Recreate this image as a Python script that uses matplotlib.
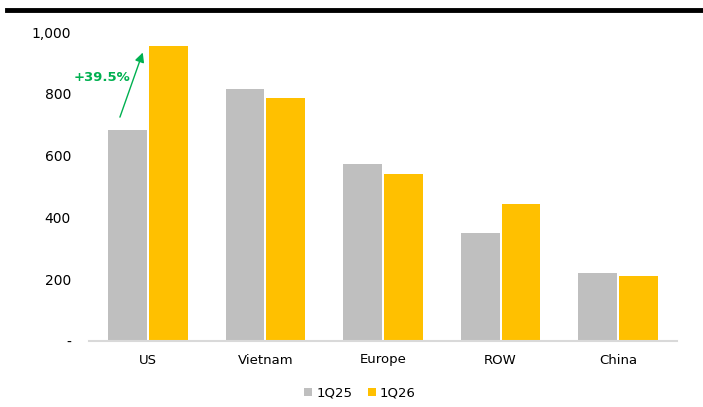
import numpy as np
import matplotlib.pyplot as plt

# Ventas por región (miles de unidades)
regiones = ["US", "Vietnam", "Europe", "ROW", "China"]
q1_25 = [684, 816, 574, 348, 219]
q1_26 = [955, 787, 539, 442, 210]
etiquetas_y = ["-", "200", "400", "600", "800", "1,000"]
crecimiento_us = "+39.5%"

gris = "#BFBFBF"
amarillo = "#FFC000"
verde = "#00B050"

plt.rcParams['font.family'] = ['DejaVu Sans']

fig = plt.figure(figsize=(7.03, 4.07), dpi=100)
ax = fig.add_axes([89 / 703, 1 - 341 / 407, 588 / 703, (341 - 32) / 407])

x = np.arange(len(regiones))
ancho = 0.33
ax.bar(x - ancho / 2 - 0.008, q1_25, width=ancho, color=gris, label="1Q25")
ax.bar(x + ancho / 2 + 0.008, q1_26, width=ancho, color=amarillo, label="1Q26")

ax.set_xlim(-0.5, len(regiones) - 0.5)
ax.set_ylim(0, 1000)
ax.set_yticks(np.arange(0, 1001, 200))
ax.set_yticklabels(etiquetas_y, fontsize=10)
ax.set_xticks(x)
ax.set_xticklabels(regiones, fontsize=9.5)
ax.tick_params(axis='both', length=0)
ax.tick_params(axis='y', pad=13)
ax.tick_params(axis='x', pad=9)

for lado in ["top", "right", "left"]:
    ax.spines[lado].set_visible(False)
ax.spines["bottom"].set_color("#D9D9D9")
ax.spines["bottom"].set_linewidth(1.5)

# Flecha de crecimiento en US
ax.annotate("", xy=(-0.035, 942), xytext=(-0.245, 716),
            arrowprops=dict(arrowstyle="-|>", color=verde, lw=1,
                            mutation_scale=14))
ax.text(-0.39, 852, crecimiento_us, color=verde, fontsize=9.5,
        fontweight="bold", ha="center", va="center")

# Línea negra superior
fig.add_artist(plt.Line2D([7 / 703, 1], [1 - 10 / 407, 1 - 10 / 407],
                          color="black", lw=3.5, transform=fig.transFigure))

fig.legend(loc="center", bbox_to_anchor=(360 / 703, 1 - 393 / 407), ncol=2,
           frameon=False, fontsize=9.5, handlelength=0.6,
           handleheight=0.6, handletextpad=0.3, columnspacing=1.2)

fig.savefig("out.png", dpi=100)
